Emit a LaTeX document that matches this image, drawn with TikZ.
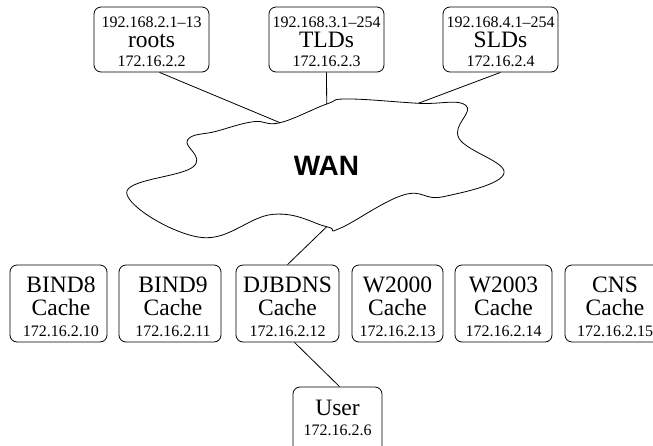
\documentclass[tikz,border=0pt]{standalone}
\usepackage{fontspec}
\setmainfont{Liberation Serif}
\newfontfamily\wanfont{Liberation Sans}
\begin{document}
\begin{tikzpicture}[x=1pt,y=-1pt,
  box/.style={draw, rounded corners=7pt, line width=0.8pt, inner sep=0pt},
  topbox/.style={box, minimum width=115pt, minimum height=65pt},
  cachebox/.style={box, minimum height=77pt},
  small/.style={inner sep=0pt, anchor=base, font=\fontsize{16}{18}\selectfont},
  big/.style={inner sep=0pt, anchor=base, font=\fontsize{23.5}{27}\selectfont},
  link/.style={line width=0.8pt}]
\useasboundingbox (0,0) rectangle (653,445);

% top servers
\node[topbox] (roots) at (151.5,39.5) {};
\node[small] (rootsA) at (151.5,27) {192.168.2.1–13};
\node[big]   (rootsB) at (151.5,47) {roots};
\node[small] (rootsC) at (151.5,66) {172.16.2.2};

\node[topbox] (tlds) at (326.5,39.5) {};
\node[small] (tldsA) at (326.5,27) {192.168.3.1–254};
\node[big]   (tldsB) at (326.5,47) {TLDs};
\node[small] (tldsC) at (326.5,66) {172.16.2.3};

\node[topbox] (slds) at (500.5,39.5) {};
\node[small] (sldsA) at (500.5,27) {192.168.4.1–254};
\node[big]   (sldsB) at (500.5,47) {SLDs};
\node[small] (sldsC) at (500.5,66) {172.16.2.4};

% cloud
\draw[line width=0.8pt, fill=white] plot[smooth cycle, tension=0.7] coordinates {
 (187.5,140) (216.7,131.2) (253.3,121.7) (280,122.7)
 (326.7,104) (348,99) (418.3,103.3) (466,105.5)
 (459,138.3) (504,173.3) (443.3,196.7)
 (403.3,195) (340,228.3) (326.7,226.7) (273.3,214.3) (200,237.3)
 (126.7,193) (193.3,166.7)};
\coordinate (cRoots) at (280,122.7);
\coordinate (cTlds) at (326.7,104);
\coordinate (cSlds) at (418.3,103.3);
\coordinate (cDown) at (326.7,226.7);
\node[inner sep=0pt, anchor=base, font=\wanfont\bfseries\fontsize{28}{30}\selectfont] (wan) at (326.5,175) {WAN};

% caches
\node[cachebox, minimum width=97pt]  (bind8) at (58.5,303.5) {};
\node[big]   (bind8A) at (61,292) {BIND8};
\node[big]   (bind8B) at (61,315) {Cache};
\node[small] (bind8C) at (61,336) {172.16.2.10};

\node[cachebox, minimum width=102pt] (bind9) at (170,303.5) {};
\node[big]   (bind9A) at (173,292) {BIND9};
\node[big]   (bind9B) at (173,315) {Cache};
\node[small] (bind9C) at (173,336) {172.16.2.11};

\node[cachebox, minimum width=103pt] (djb) at (287.5,303.5) {};
\node[big]   (djbA) at (287.5,292) {DJBDNS};
\node[big]   (djbB) at (287.5,315) {Cache};
\node[small] (djbC) at (287.5,336) {172.16.2.12};

\node[cachebox, minimum width=91pt]  (w2000) at (397.5,303.5) {};
\node[big]   (w2000A) at (397.5,292) {W2000};
\node[big]   (w2000B) at (397.5,315) {Cache};
\node[small] (w2000C) at (397.5,336) {172.16.2.13};

\node[cachebox, minimum width=97pt]  (w2003) at (503.5,303.5) {};
\node[big]   (w2003A) at (503.5,292) {W2003};
\node[big]   (w2003B) at (503.5,315) {Cache};
\node[small] (w2003C) at (503.5,336) {172.16.2.14};

\node[cachebox, minimum width=100pt] (cns) at (615,303.5) {};
\node[big]   (cnsA) at (615,292) {CNS};
\node[big]   (cnsB) at (615,315) {Cache};
\node[small] (cnsC) at (615,336) {172.16.2.15};

% user
\node[box, minimum width=89pt, minimum height=70pt] (user) at (337.5,422) {};
\node[big]   (userA) at (337.5,415) {User};
\node[small] (userB) at (337.5,435) {172.16.2.6};

% links
\draw[link] ([xshift=8pt]roots.south) -- (cRoots);
\draw[link] (tlds.south) -- (cTlds);
\draw[link] (slds.south) -- (cSlds);
\draw[link] (cDown) -- (djb.north);
\draw[link] ([xshift=7pt]djb.south) -- ([xshift=2pt]user.north);
\end{tikzpicture}
\end{document}
